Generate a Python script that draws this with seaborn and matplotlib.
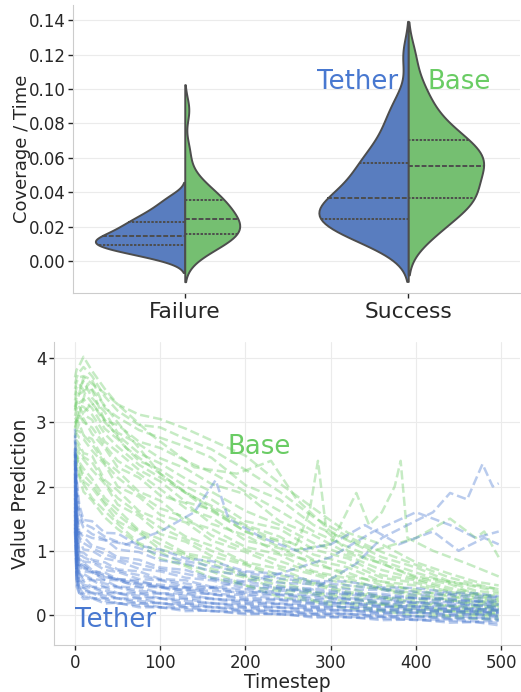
import numpy as np
import pandas as pd
import matplotlib
matplotlib.use("Agg")
import matplotlib.pyplot as plt
import seaborn as sns

# ---- coverage per unit time, per episode outcome and agent ----
outcomes = ["Failure", "Success"]
agents = ["Tether", "Base"]

failure_tether = [0.0010, 0.0030, 0.0045, 0.0058, 0.0068, 0.0077, 0.0084, 0.0091, 0.0098, 0.0105,
                  0.0112, 0.0119, 0.0126, 0.0133, 0.0141, 0.0152, 0.0162, 0.0172, 0.0182, 0.0193,
                  0.0205, 0.0218, 0.0229, 0.0242, 0.0257, 0.0274, 0.0293, 0.0316, 0.0343, 0.0380]
failure_base = [0.0025, 0.0060, 0.0085, 0.0105, 0.0120, 0.0132, 0.0142, 0.0153, 0.0165, 0.0177,
                0.0189, 0.0201, 0.0213, 0.0225, 0.0237, 0.0249, 0.0264, 0.0280, 0.0296, 0.0312,
                0.0328, 0.0344, 0.0360, 0.0378, 0.0398, 0.0422, 0.0455, 0.0510, 0.0640, 0.0880]
success_tether = [0.0075, 0.0110, 0.0130, 0.0150, 0.0168, 0.0184, 0.0198, 0.0211, 0.0223, 0.0234,
                  0.0245, 0.0256, 0.0267, 0.0278, 0.0290, 0.0302, 0.0315, 0.0329, 0.0344, 0.0359,
                  0.0373, 0.0388, 0.0405, 0.0425, 0.0447, 0.0470, 0.0495, 0.0520, 0.0545, 0.0567,
                  0.0582, 0.0610, 0.0640, 0.0680, 0.0720, 0.0770, 0.0820, 0.0880, 0.0950, 0.1200]
success_base = [0.0110, 0.0160, 0.0195, 0.0228, 0.0258, 0.0284, 0.0307, 0.0328, 0.0345, 0.0355,
                0.0370, 0.0390, 0.0405, 0.0420, 0.0438, 0.0460, 0.0485, 0.0508, 0.0528, 0.0543,
                0.0557, 0.0568, 0.0580, 0.0592, 0.0605, 0.0620, 0.0640, 0.0660, 0.0682, 0.0698,
                0.0712, 0.0735, 0.0760, 0.0790, 0.0830, 0.0870, 0.0920, 0.0980, 0.1050, 0.1200]

# ---- value prediction traces over an episode ----
timesteps = [0, 2, 5, 10, 20, 35, 50, 75, 100, 130, 160, 200, 240, 280, 320, 360, 400, 440, 470, 497]

base_runs = [
    [3.70, 3.82, 3.88, 4.02, 3.80, 3.52, 3.28, 3.12, 3.05, 2.90, 2.72, 2.48, 2.05, 1.66, 1.28, 1.10, 0.82, 0.64, 0.52, 0.46],
    [3.60, 3.70, 3.78, 3.86, 3.72, 3.40, 3.18, 2.96, 2.92, 2.74, 2.58, 2.26, 1.92, 1.52, 1.22, 0.98, 0.78, 0.58, 0.48, 0.40],
    [3.52, 3.63, 3.70, 3.72, 3.66, 3.22, 3.08, 2.88, 2.76, 2.62, 2.45, 2.02, 1.80, 1.40, 1.16, 0.90, 0.74, 0.52, 0.44, 0.36],
    [3.42, 3.56, 3.60, 3.50, 3.50, 3.02, 2.96, 2.70, 2.60, 2.40, 2.22, 1.92, 1.62, 1.30, 1.06, 0.84, 0.66, 0.50, 0.38, 0.33],
    [3.34, 3.48, 3.52, 3.64, 3.38, 3.16, 2.84, 2.66, 2.44, 2.28, 2.04, 1.88, 1.46, 1.24, 0.96, 0.80, 0.58, 0.48, 0.32, 0.30],
    [3.24, 3.40, 3.44, 3.48, 3.30, 3.00, 2.80, 2.52, 2.36, 2.12, 1.92, 1.62, 1.40, 1.12, 0.92, 0.70, 0.56, 0.42, 0.34, 0.27],
    [3.18, 3.34, 3.30, 3.36, 3.22, 2.90, 2.74, 2.40, 2.26, 2.00, 1.80, 1.46, 1.34, 1.02, 0.88, 0.62, 0.54, 0.38, 0.32, 0.24],
    [3.10, 3.22, 3.26, 3.24, 3.12, 2.82, 2.62, 2.34, 2.14, 1.90, 1.70, 1.40, 1.22, 0.94, 0.80, 0.58, 0.50, 0.36, 0.29, 0.22],
    [3.04, 3.08, 3.24, 3.12, 3.04, 2.70, 2.54, 2.26, 2.08, 1.76, 1.64, 1.30, 1.14, 0.86, 0.74, 0.52, 0.46, 0.33, 0.27, 0.20],
    [2.98, 3.04, 3.12, 3.00, 2.92, 2.64, 2.40, 2.20, 1.96, 1.66, 1.52, 1.16, 1.04, 0.78, 0.66, 0.46, 0.40, 0.28, 0.24, 0.16],
    [2.92, 3.02, 3.00, 3.06, 2.82, 2.60, 2.30, 2.14, 1.86, 1.74, 1.42, 1.24, 0.96, 0.84, 0.60, 0.52, 0.36, 0.31, 0.21, 0.19],
    [2.86, 2.88, 2.98, 2.80, 2.74, 2.40, 2.24, 1.92, 1.78, 1.46, 1.34, 1.06, 0.94, 0.68, 0.57, 0.40, 0.34, 0.23, 0.19, 0.14],
    [2.80, 2.86, 2.86, 2.80, 2.66, 2.36, 2.14, 1.88, 1.66, 1.52, 1.24, 1.02, 0.84, 0.66, 0.52, 0.42, 0.30, 0.24, 0.16, 0.13],
    [2.76, 2.82, 2.76, 2.74, 2.56, 2.34, 2.00, 1.84, 1.56, 1.44, 1.16, 0.98, 0.76, 0.63, 0.46, 0.40, 0.26, 0.22, 0.14, 0.12],
    [2.68, 2.72, 2.66, 2.52, 2.48, 2.10, 1.94, 1.62, 1.48, 1.22, 1.08, 0.82, 0.72, 0.50, 0.42, 0.28, 0.24, 0.14, 0.13, 0.09],
    [2.66, 2.66, 2.60, 2.46, 2.38, 2.06, 1.82, 1.58, 1.36, 1.18, 1.00, 0.80, 0.62, 0.50, 0.36, 0.28, 0.20, 0.14, 0.10, 0.07],
    [2.62, 2.58, 2.52, 2.42, 2.26, 2.04, 1.72, 1.54, 1.26, 1.14, 0.92, 0.78, 0.56, 0.47, 0.33, 0.26, 0.16, 0.13, 0.07, 0.06],
    [2.56, 2.52, 2.38, 2.28, 2.12, 1.82, 1.64, 1.32, 1.18, 0.96, 0.88, 0.62, 0.52, 0.36, 0.30, 0.18, 0.14, 0.07, 0.06, 0.02],
    [2.52, 2.48, 2.34, 2.18, 2.04, 1.76, 1.56, 1.30, 1.10, 0.94, 0.80, 0.60, 0.46, 0.34, 0.26, 0.17, 0.10, 0.06, 0.03, 0.01],
    [2.50, 2.44, 2.32, 2.08, 1.98, 1.72, 1.46, 1.28, 1.02, 0.92, 0.72, 0.58, 0.40, 0.32, 0.20, 0.16, 0.06, 0.05, 0.01, 0.00],
    [2.46, 2.36, 2.18, 2.04, 1.82, 1.62, 1.42, 1.12, 0.98, 0.78, 0.68, 0.46, 0.37, 0.23, 0.17, 0.08, 0.05, -0.01, -0.01, -0.04],
    [2.40, 2.30, 2.16, 1.92, 1.78, 1.52, 1.34, 1.10, 0.88, 0.76, 0.58, 0.46, 0.28, 0.21, 0.10, 0.06, -0.01, -0.03, -0.06, -0.07],
]

tether_runs = [
    [2.90, 2.12, 1.72, 1.48, 1.46, 1.28, 1.27, 1.08, 1.02, 0.88, 0.84, 0.68, 0.64, 0.53, 0.52, 0.43, 0.42, 0.35, 0.34, 0.29],
    [2.80, 2.00, 1.62, 1.42, 1.36, 1.22, 1.14, 1.04, 0.94, 0.84, 0.76, 0.66, 0.57, 0.51, 0.46, 0.41, 0.36, 0.33, 0.30, 0.28],
    [2.72, 1.88, 1.52, 1.36, 1.26, 1.18, 1.02, 0.98, 0.85, 0.80, 0.68, 0.62, 0.50, 0.48, 0.40, 0.39, 0.31, 0.31, 0.26, 0.27],
    [2.58, 1.72, 1.28, 1.22, 1.08, 1.02, 0.90, 0.86, 0.74, 0.70, 0.58, 0.52, 0.44, 0.41, 0.35, 0.33, 0.27, 0.26, 0.22, 0.23],
    [2.54, 1.62, 1.22, 1.12, 1.04, 0.95, 0.87, 0.79, 0.71, 0.64, 0.56, 0.47, 0.42, 0.37, 0.33, 0.30, 0.26, 0.24, 0.21, 0.20],
    [2.50, 1.54, 1.18, 1.02, 1.00, 0.88, 0.84, 0.72, 0.68, 0.58, 0.54, 0.42, 0.41, 0.34, 0.32, 0.27, 0.26, 0.21, 0.21, 0.17],
    [2.42, 1.42, 0.98, 0.97, 0.86, 0.82, 0.71, 0.68, 0.56, 0.54, 0.44, 0.40, 0.33, 0.31, 0.26, 0.25, 0.20, 0.20, 0.16, 0.16],
    [2.36, 1.36, 0.96, 0.90, 0.84, 0.76, 0.69, 0.62, 0.55, 0.49, 0.43, 0.36, 0.32, 0.28, 0.25, 0.22, 0.19, 0.18, 0.15, 0.14],
    [2.28, 1.28, 0.94, 0.83, 0.82, 0.70, 0.67, 0.56, 0.54, 0.44, 0.42, 0.32, 0.31, 0.25, 0.24, 0.19, 0.19, 0.15, 0.15, 0.11],
    [2.22, 1.16, 0.80, 0.78, 0.68, 0.66, 0.56, 0.54, 0.44, 0.42, 0.33, 0.31, 0.25, 0.23, 0.19, 0.18, 0.14, 0.14, 0.10, 0.11],
    [2.14, 1.10, 0.78, 0.73, 0.67, 0.60, 0.55, 0.49, 0.44, 0.38, 0.32, 0.27, 0.24, 0.20, 0.18, 0.15, 0.13, 0.11, 0.09, 0.09],
    [2.08, 1.04, 0.77, 0.68, 0.66, 0.55, 0.54, 0.44, 0.43, 0.34, 0.33, 0.24, 0.23, 0.18, 0.18, 0.13, 0.13, 0.09, 0.10, 0.07],
    [2.02, 0.96, 0.66, 0.64, 0.56, 0.54, 0.44, 0.43, 0.34, 0.33, 0.25, 0.23, 0.18, 0.17, 0.13, 0.13, 0.09, 0.09, 0.06, 0.07],
    [1.94, 0.90, 0.65, 0.59, 0.55, 0.49, 0.44, 0.38, 0.34, 0.30, 0.26, 0.21, 0.17, 0.14, 0.12, 0.10, 0.08, 0.07, 0.05, 0.05],
    [1.88, 0.86, 0.64, 0.54, 0.54, 0.44, 0.43, 0.34, 0.33, 0.26, 0.25, 0.18, 0.17, 0.12, 0.12, 0.08, 0.08, 0.05, 0.06, 0.03],
    [1.82, 0.82, 0.54, 0.52, 0.44, 0.43, 0.34, 0.34, 0.26, 0.25, 0.18, 0.17, 0.12, 0.11, 0.07, 0.07, 0.04, 0.05, 0.02, 0.03],
    [1.74, 0.76, 0.53, 0.47, 0.44, 0.38, 0.34, 0.30, 0.26, 0.22, 0.19, 0.14, 0.12, 0.09, 0.07, 0.05, 0.03, 0.02, 0.01, 0.00],
    [1.68, 0.70, 0.52, 0.43, 0.43, 0.34, 0.34, 0.26, 0.26, 0.18, 0.18, 0.12, 0.11, 0.07, 0.07, 0.03, 0.04, 0.00, 0.01, -0.02],
    [1.62, 0.66, 0.43, 0.42, 0.34, 0.34, 0.26, 0.26, 0.18, 0.18, 0.12, 0.11, 0.06, 0.06, 0.02, 0.02, -0.02, -0.01, -0.04, -0.03],
    [1.56, 0.62, 0.44, 0.38, 0.35, 0.30, 0.26, 0.22, 0.18, 0.15, 0.13, 0.08, 0.06, 0.03, 0.01, -0.01, -0.03, -0.04, -0.05, -0.06],
    [1.48, 0.56, 0.42, 0.33, 0.34, 0.26, 0.26, 0.18, 0.19, 0.12, 0.12, 0.06, 0.06, 0.01, 0.02, -0.03, -0.02, -0.06, -0.05, -0.08],
    [1.42, 0.54, 0.34, 0.33, 0.26, 0.26, 0.18, 0.19, 0.12, 0.12, 0.06, 0.06, 0.01, 0.01, -0.03, -0.03, -0.07, -0.07, -0.10, -0.09],
    [1.36, 0.50, 0.35, 0.29, 0.27, 0.22, 0.18, 0.15, 0.12, 0.09, 0.06, 0.03, 0.01, -0.02, -0.04, -0.05, -0.08, -0.09, -0.11, -0.12],
    [1.30, 0.44, 0.34, 0.25, 0.26, 0.18, 0.19, 0.12, 0.12, 0.06, 0.07, 0.01, 0.02, -0.04, -0.03, -0.08, -0.07, -0.12, -0.11, -0.16],
]

# a few runs whose value estimate jumps late in the episode
base_spike_steps = [
    [0, 20, 60, 120, 180, 230, 260, 275, 285, 295, 320, 360, 400, 450, 497],
    [0, 15, 50, 100, 150, 200, 250, 300, 330, 345, 360, 375, 382, 390, 420, 460, 497],
    [0, 10, 40, 90, 140, 190, 230, 260, 300, 350, 400, 440, 470, 480, 497],
]
base_spike_values = [
    [3.00, 3.30, 2.60, 2.00, 1.50, 1.20, 1.10, 1.60, 2.40, 1.30, 1.00, 0.80, 0.60, 0.50, 0.40],
    [2.90, 3.60, 3.00, 2.20, 1.70, 1.30, 1.00, 1.10, 1.90, 1.40, 1.60, 2.00, 2.40, 1.20, 1.00, 0.80, 0.60],
    [3.20, 3.70, 3.40, 2.80, 2.30, 2.20, 2.40, 1.80, 1.30, 1.00, 1.20, 1.50, 1.20, 1.30, 0.90],
]
tether_spike_steps = [
    [0, 3, 20, 60, 120, 200, 280, 330, 360, 390, 420, 440, 460, 478, 490, 497],
    [0, 3, 20, 60, 100, 140, 165, 180, 220, 260, 300, 340, 380, 420, 450, 480, 497],
    [0, 3, 30, 80, 150, 230, 300, 350, 400, 440, 470, 497],
]
tether_spike_values = [
    [2.40, 0.90, 0.70, 0.50, 0.40, 0.35, 0.40, 0.80, 1.20, 1.40, 1.60, 1.90, 1.80, 2.35, 2.00, 2.05],
    [2.60, 1.30, 1.20, 1.10, 1.30, 1.60, 2.10, 1.50, 1.20, 1.00, 1.10, 1.40, 1.10, 1.30, 1.00, 1.20, 1.10],
    [2.20, 0.80, 0.60, 0.50, 0.40, 0.60, 0.90, 1.30, 1.60, 1.40, 1.20, 1.30],
]

# ---- tidy tables ----
violin_df = pd.DataFrame({
    "outcome": (["Failure"] * len(failure_tether) + ["Failure"] * len(failure_base)
                + ["Success"] * len(success_tether) + ["Success"] * len(success_base)),
    "agent": (["Tether"] * len(failure_tether) + ["Base"] * len(failure_base)
              + ["Tether"] * len(success_tether) + ["Base"] * len(success_base)),
    "cov": failure_tether + failure_base + success_tether + success_base,
})

rows = []
run_id = 0
for agent, runs in (("Base", base_runs), ("Tether", tether_runs)):
    for run in runs:
        for t, v in zip(timesteps, run):
            rows.append((agent, run_id, t, v))
        run_id += 1
for agent, steps_list, vals_list in (("Base", base_spike_steps, base_spike_values),
                                     ("Tether", tether_spike_steps, tether_spike_values)):
    for steps, vals in zip(steps_list, vals_list):
        for t, v in zip(steps, vals):
            rows.append((agent, run_id, t, v))
        run_id += 1
trace_df = pd.DataFrame(rows, columns=["agent", "run", "Timestep", "Value"])

# ---- style ----
sns.set_style("whitegrid", {
    "axes.edgecolor": ".8",
    "grid.color": ".92",
    "xtick.bottom": True,
    "ytick.left": True,
    "xtick.color": ".15",
    "ytick.color": ".15",
})
plt.rcParams["font.family"] = ["DejaVu Sans"]
plt.rcParams["xtick.major.size"] = 3.6
plt.rcParams["ytick.major.size"] = 3.6
plt.rcParams["xtick.major.pad"] = 1.8
plt.rcParams["ytick.major.pad"] = 1.8
plt.rcParams["xtick.major.width"] = 1.0
plt.rcParams["ytick.major.width"] = 1.0

muted = sns.color_palette("muted")
palette = {"Tether": muted[0], "Base": muted[2]}

fig = plt.figure(figsize=(5.21, 6.92), dpi=100)
ax1 = fig.add_axes([73 / 521, (692 - 293) / 692, (520 - 73) / 521, 288 / 692])
ax2 = fig.add_axes([54 / 521, (692 - 645) / 692, (520 - 54) / 521, 303 / 692])

# ---- top: split violins, widths scaled within each outcome ----
for outcome in outcomes:
    sns.violinplot(data=violin_df[violin_df["outcome"] == outcome], x="outcome", y="cov",
                   hue="agent", order=outcomes, hue_order=agents, palette=palette,
                   split=True, inner="quart", common_norm=True, bw_adjust=0.8,
                   linecolor=".3", linewidth=1.4, legend=False, ax=ax1)
ax1.set_ylim(-0.0187, 0.149)
ax1.set_xlim(-0.5, 1.5)
yt = np.arange(0, 0.141, 0.02)
ax1.set_yticks(yt)
ax1.set_yticklabels([f"{v:.2f}" for v in yt], fontsize=12)
ax1.tick_params(axis="x", labelsize=15.7, pad=3)
ax1.set_xlabel("")
ax1.set_ylabel("Coverage / Time", fontsize=13)
ax1.yaxis.set_label_coords(-0.094, 0.5)
ax1.text(0.773, 0.1044, "Tether", color=muted[0], fontsize=18.7, ha="center", va="center")
ax1.text(1.227, 0.1044, "Base", color=muted[2], fontsize=18.7, ha="center", va="center")

# ---- bottom: value prediction traces ----
sns.lineplot(data=trace_df, x="Timestep", y="Value", hue="agent", units="run",
             estimator=None, palette=palette, hue_order=["Base", "Tether"],
             linestyle="--", linewidth=1.8, alpha=0.38, legend=False, ax=ax2)
ax2.set_xlim(-24.6, 522)
ax2.set_ylim(-0.467, 4.25)
ax2.set_xticks([0, 100, 200, 300, 400, 500])
ax2.set_yticks([0, 1, 2, 3, 4])
ax2.tick_params(axis="both", labelsize=12)
ax2.tick_params(axis="x", pad=3)
ax2.set_xlabel("Timestep", fontsize=13.5)
ax2.set_ylabel("Value Prediction", fontsize=13.5)
ax2.xaxis.set_label_coords(0.5, -0.093)
ax2.yaxis.set_label_coords(-0.052, 0.5)
ax2.text(216, 2.61, "Base", color=muted[2], fontsize=18.7, ha="center", va="center")
ax2.text(48, -0.08, "Tether", color=muted[0], fontsize=18.7, ha="center", va="center")

for ax in (ax1, ax2):
    sns.despine(ax=ax)

fig.savefig("out.png", dpi=100)
